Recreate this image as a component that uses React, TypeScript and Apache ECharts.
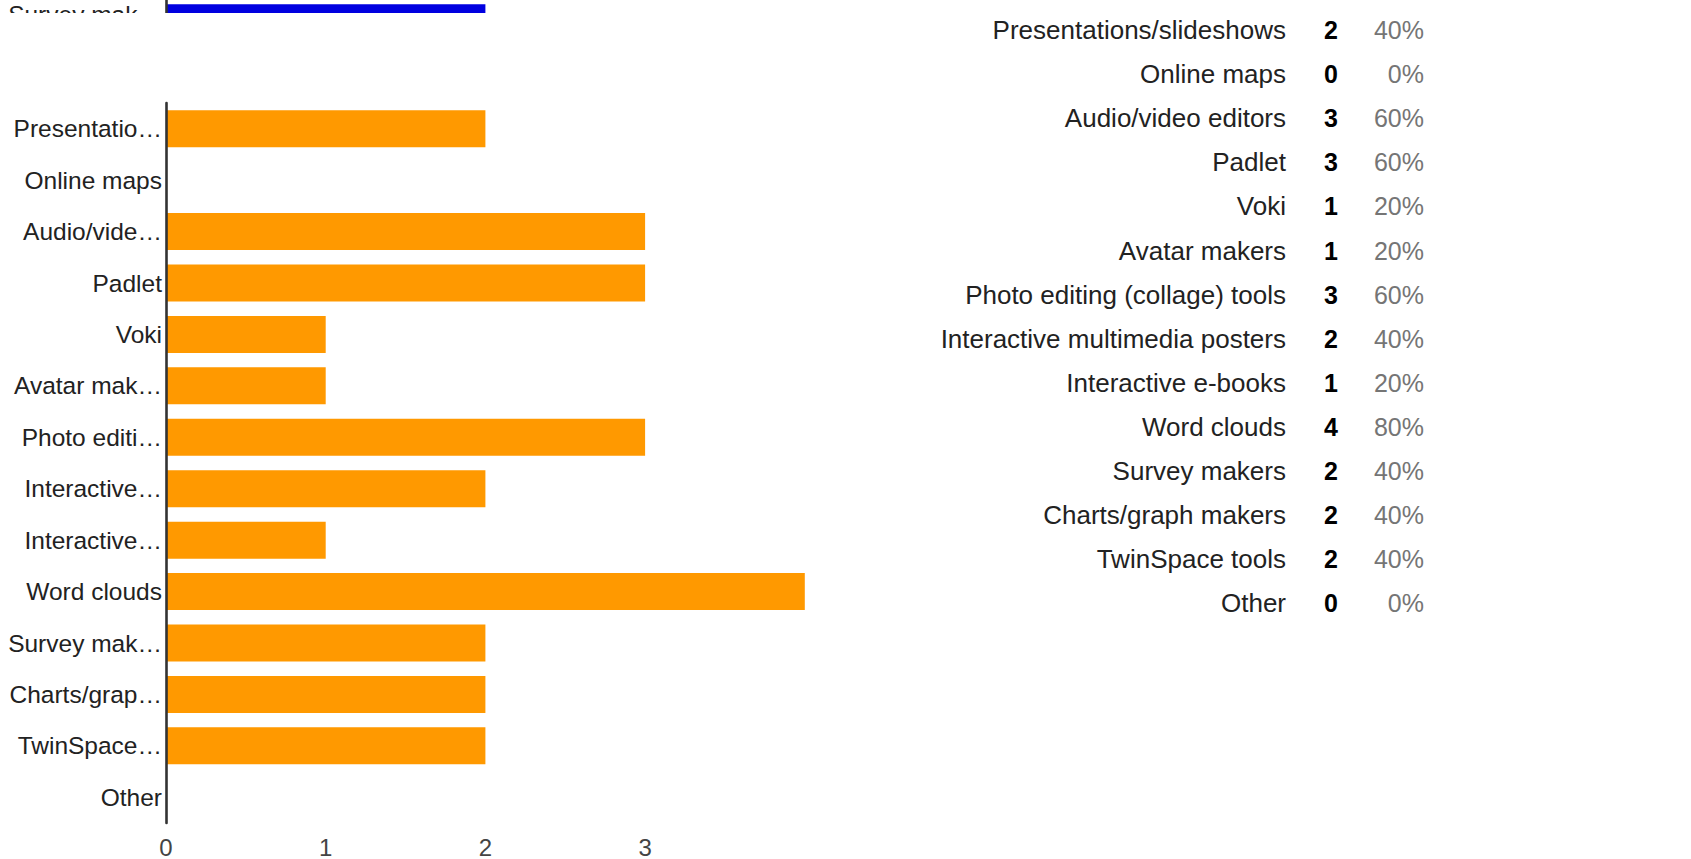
import React, { useEffect, useRef } from "react";
import * as echarts from "echarts";

const categories = [
  "Presentations/slideshows",
  "Online maps",
  "Audio/video editors",
  "Padlet",
  "Voki",
  "Avatar makers",
  "Photo editing (collage) tools",
  "Interactive multimedia posters",
  "Interactive e-books",
  "Word clouds",
  "Survey makers",
  "Charts/graph makers",
  "TwinSpace tools",
  "Other",
];
const shortLabels = [
  "Presentatio…",
  "Online maps",
  "Audio/vide…",
  "Padlet",
  "Voki",
  "Avatar mak…",
  "Photo editi…",
  "Interactive…",
  "Interactive…",
  "Word clouds",
  "Survey mak…",
  "Charts/grap…",
  "TwinSpace…",
  "Other",
];
const counts = [2, 0, 3, 3, 1, 1, 3, 2, 1, 4, 2, 2, 2, 0];
const percents = ["40%", "0%", "60%", "60%", "20%", "20%", "60%", "40%", "20%", "80%", "40%", "40%", "40%", "0%"];
const xTickLabels = ["0", "1", "2", "3"];

const prevCategories = ["Survey makers"];
const prevShortLabels = ["Survey mak…"];
const prevValues = [2];

const FONT = "'Liberation Sans', Arial, sans-serif";

export default function App() {
  const ref = useRef<HTMLDivElement>(null);
  useEffect(() => {
    if (!ref.current) return;
    const chart = echarts.init(ref.current, null, { renderer: "svg" });
    const axisLineStyle = { color: "#333333", width: 2.6 };
    chart.setOption({
      animation: false,
      textStyle: { fontFamily: FONT },
      grid: [
        { left: 166, top: 103, width: 638.8, height: 720 },
        { left: 166, top: -21.5, width: 638.8, height: 51.4 },
        { left: 1424, top: 8, width: 10, height: 617.5 },
      ],
      xAxis: [
        {
          gridIndex: 0,
          type: "value",
          min: 0,
          max: 4,
          interval: 1,
          axisLine: { show: false },
          axisTick: { show: false },
          splitLine: { show: false },
          axisLabel: {
            fontSize: 24,
            color: "#444444",
            margin: 12,
            fontFamily: FONT,
            formatter: (v: number) => (xTickLabels[v] !== undefined ? xTickLabels[v] : ""),
          },
        },
        {
          gridIndex: 1,
          type: "value",
          min: 0,
          max: 4,
          show: false,
        },
        {
          gridIndex: 2,
          type: "value",
          min: 0,
          max: 1,
          show: false,
        },
      ],
      yAxis: [
        {
          gridIndex: 0,
          type: "category",
          inverse: true,
          data: categories,
          z: 5,
          axisLine: { show: true, lineStyle: axisLineStyle },
          axisTick: { show: false },
          axisLabel: {
            fontSize: 24.5,
            color: "#222222",
            margin: 4,
            fontFamily: FONT,
            interval: 0,
            formatter: (_v: string, i: number) => shortLabels[i],
          },
        },
        {
          gridIndex: 1,
          type: "category",
          inverse: true,
          data: prevCategories,
          z: 5,
          axisLine: { show: true, lineStyle: axisLineStyle },
          axisTick: { show: false },
          axisLabel: {
            fontSize: 24.5,
            color: "#222222",
            margin: 4,
            fontFamily: FONT,
            formatter: (_v: string, i: number) => prevShortLabels[i],
          },
        },
        {
          gridIndex: 2,
          type: "category",
          inverse: true,
          data: categories,
          axisLine: { show: false },
          axisTick: { show: false },
          axisLabel: {
            margin: 0,
            interval: 0,
            fontFamily: FONT,
            formatter: (v: string, i: number) => `{n|${v}}{c|${counts[i]}}{p|${percents[i]}}`,
            rich: {
              n: { width: 400, align: "right", fontSize: 26, color: "#222222", fontFamily: FONT },
              c: { width: 52, align: "right", fontSize: 25, fontWeight: "bold", color: "#000000", fontFamily: FONT },
              p: { width: 86, align: "right", fontSize: 25, color: "#757575", fontFamily: FONT },
            },
          },
        },
      ],
      series: [
        {
          type: "bar",
          xAxisIndex: 0,
          yAxisIndex: 0,
          data: counts,
          barCategoryGap: "28%",
          itemStyle: { color: "#ff9900" },
          silent: true,
        },
        {
          type: "bar",
          xAxisIndex: 1,
          yAxisIndex: 1,
          data: prevValues,
          barCategoryGap: "28%",
          itemStyle: { color: "#0000e0" },
          silent: true,
        },
      ],
      graphic: [
        {
          type: "rect",
          z: 100,
          shape: { x: 0, y: 13, width: 860, height: 88 },
          style: { fill: "#ffffff" },
          silent: true,
        },
      ],
    });
    return () => chart.dispose();
  }, []);
  return (
    <div
      ref={ref}
      style={{ position: "fixed", left: 0, top: 0, width: 1691, height: 859, background: "#ffffff" }}
    />
  );
}
